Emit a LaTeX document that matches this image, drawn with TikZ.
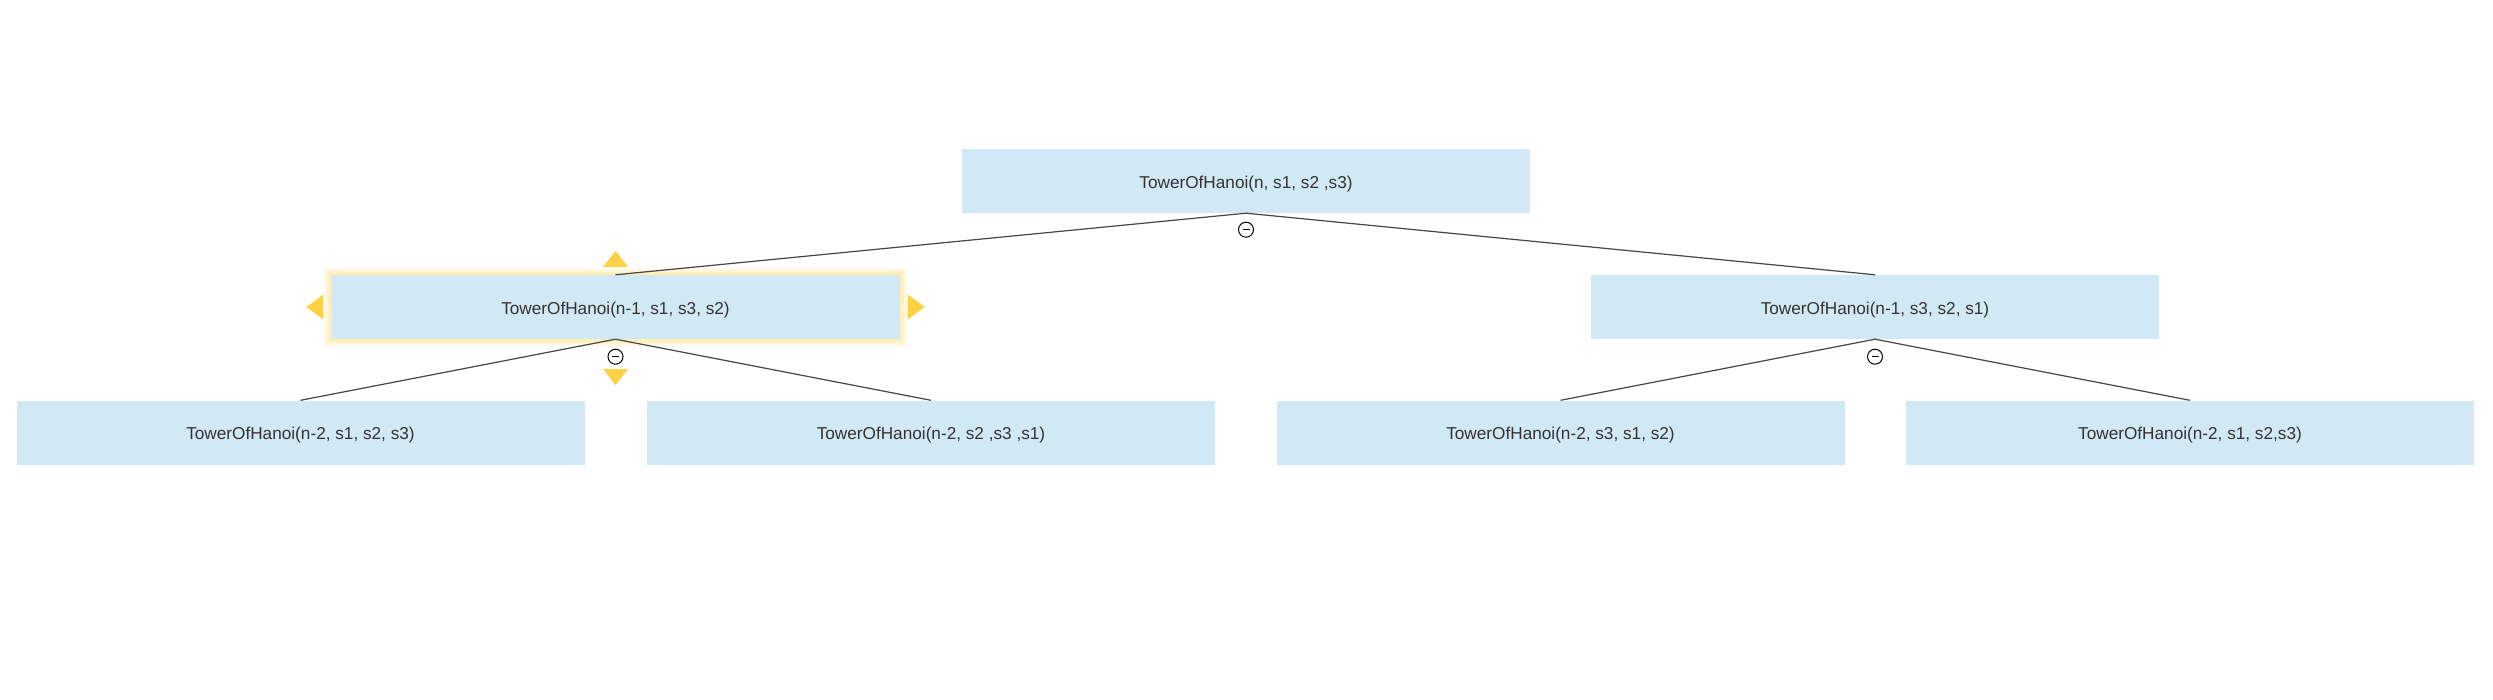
\documentclass[tikz,border=0pt]{standalone}
\usepackage{fontspec}
\setmainfont{Liberation Sans}
\usetikzlibrary{calc}
\definecolor{boxfill}{RGB}{209,232,245}
\definecolor{txt}{RGB}{51,51,51}
\definecolor{edgec}{RGB}{70,70,70}
\definecolor{sel}{RGB}{255,210,70}
\tikzset{
  fnode/.style={fill=boxfill, minimum width=568pt, minimum height=64pt, inner sep=0pt,
    text height=18pt, text depth=3.6pt,
    text=txt, font=\fontsize{17.2}{20}\selectfont},
  edge/.style={draw=edgec, line width=1.2pt},
  collapse/.style={circle, draw=black, fill=white, line width=1pt, minimum size=15pt, inner sep=0pt},
  handle/.style={fill=sel, draw=none},
}
\begin{document}
\begin{tikzpicture}[x=1pt,y=-1pt]
\useasboundingbox (0,0) rectangle (2493,699);
\fill[white] (0,0) rectangle (2493,699);
% glow behind the selected node
\foreach \w/\o in {16/0.05,13/0.07,10/0.09,7/0.11,4/0.13}{
  \draw[sel, line width=\w pt, draw opacity=\o] (331,275) rectangle (900,339);
}
\node[fnode] (root) at (1246,181) {TowerOfHanoi(n, s1, s2 ,s3)};
\node[fnode] (l) at (615.5,307) {TowerOfHanoi(n-1, s1, s3, s2)};
\node[fnode] (r) at (1875,307) {TowerOfHanoi(n-1, s3, s2, s1)};
\node[fnode] (ll) at (300.5,432.5) {TowerOfHanoi(n-2, s1, s2, s3)};
\node[fnode] (lr) at (931,432.5) {TowerOfHanoi(n-2, s2 ,s3 ,s1)};
\node[fnode] (rl) at (1560.5,432.5) {TowerOfHanoi(n-2, s3, s1, s2)};
\node[fnode] (rr) at (2190,432.5) {TowerOfHanoi(n-2, s1, s2,s3)};
% connectors
\draw[edge] (root.south) -- (l.north);
\draw[edge] (root.south) -- (r.north);
\draw[edge] (l.south) -- (ll.north);
\draw[edge] (l.south) -- (lr.north);
\draw[edge] (r.south) -- (rl.north);
\draw[edge] (r.south) -- (rr.north);
% collapse icons
\node[collapse] (c0) at ($(root.south)+(0,16.5)$) {};
\node[collapse] (c1) at ($(l.south)+(0,17.5)$) {};
\node[collapse] (c2) at ($(r.south)+(0,17.5)$) {};
\foreach \c in {c0,c1,c2}{
  \draw[black, line width=1.5pt] ($(\c.center)+(-3.5,0)$) -- ($(\c.center)+(3.5,0)$);
}
% selection handles
\fill[handle] ($(l.north)+(-12.5,-8)$) -- ($(l.north)+(12.5,-8)$) -- ($(l.north)+(0,-24)$) -- cycle;
\fill[handle] ($(l.south)+(-12.5,30)$) -- ($(l.south)+(12.5,30)$) -- ($(l.south)+(0,46)$) -- cycle;
\fill[handle] ($(l.west)+(-8,-12.5)$) -- ($(l.west)+(-8,12.5)$) -- ($(l.west)+(-25,0)$) -- cycle;
\fill[handle] ($(l.east)+(8,-12.5)$) -- ($(l.east)+(8,12.5)$) -- ($(l.east)+(25,0)$) -- cycle;
\end{tikzpicture}
\end{document}
